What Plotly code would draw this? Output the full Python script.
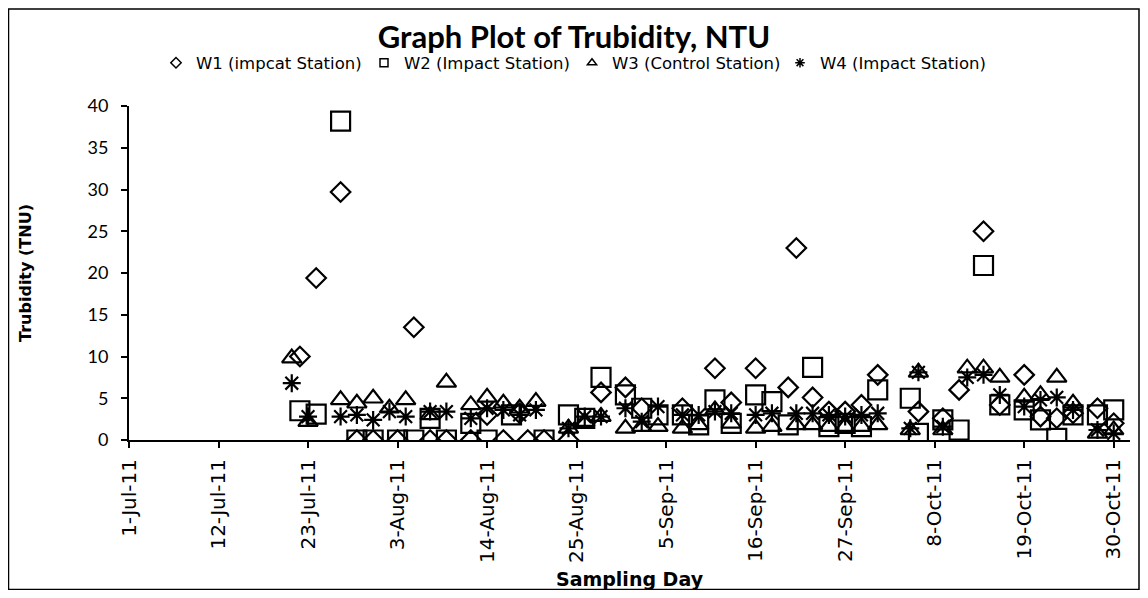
import plotly.graph_objects as go

# ---------------- data ----------------
w1_dates = ["2011-07-22", "2011-07-24", "2011-07-27", "2011-07-29", "2011-07-31", "2011-08-03",
            "2011-08-05", "2011-08-07", "2011-08-09", "2011-08-12", "2011-08-14", "2011-08-16",
            "2011-08-18", "2011-08-19", "2011-08-21", "2011-08-24", "2011-08-28", "2011-08-31",
            "2011-09-02", "2011-09-07", "2011-09-11", "2011-09-13", "2011-09-16", "2011-09-20",
            "2011-09-21", "2011-09-23", "2011-09-25", "2011-09-27", "2011-09-29", "2011-10-01",
            "2011-10-06", "2011-10-09", "2011-10-11", "2011-10-14", "2011-10-16", "2011-10-19",
            "2011-10-21", "2011-10-23", "2011-10-25", "2011-10-28", "2011-10-30"]
w1_values = [10.0, 19.4, 29.7, 0, 0, 0, 13.5, 0, 0, 0, 3.0, 0, 3.2, 0, 0, 0, 5.7, 6.3, 3.8, 3.8,
             8.6, 4.5, 8.6, 6.3, 23.0, 5.1, 3.4, 3.4, 4.2, 7.8, 3.4, 2.6, 6.0, 25.0, 4.2, 7.8,
             2.8, 2.6, 3.2, 3.8, 2.0]

w2_dates = ["2011-07-22", "2011-07-24", "2011-07-27", "2011-07-29", "2011-07-31", "2011-08-03",
            "2011-08-05", "2011-08-07", "2011-08-09", "2011-08-12", "2011-08-14", "2011-08-17",
            "2011-08-21", "2011-08-24", "2011-08-26", "2011-08-28", "2011-08-31", "2011-09-02",
            "2011-09-04", "2011-09-07", "2011-09-09", "2011-09-11", "2011-09-13", "2011-09-16",
            "2011-09-18", "2011-09-20", "2011-09-23", "2011-09-25", "2011-09-27", "2011-09-29",
            "2011-10-01", "2011-10-05", "2011-10-06", "2011-10-09", "2011-10-11", "2011-10-14",
            "2011-10-16", "2011-10-19", "2011-10-21", "2011-10-23", "2011-10-25", "2011-10-28",
            "2011-10-30"]
w2_values = [3.5, 3.1, 38.2, 0, 0, 0, 0, 2.6, 0, 2.0, 0, 3.0, 0, 3.0, 2.6, 7.5, 5.4, 3.8, 3.0,
             3.0, 1.8, 4.8, 2.0, 5.4, 4.6, 1.8, 8.7, 1.6, 2.0, 1.6, 6.0, 5.0, 0.8, 2.4, 1.2, 20.9,
             4.2, 3.6, 2.4, 0.2, 3.0, 3.0, 3.6]

w34_dates = ["2011-07-21", "2011-07-23", "2011-07-27", "2011-07-29", "2011-07-31", "2011-08-02",
             "2011-08-04", "2011-08-07", "2011-08-09", "2011-08-12", "2011-08-14", "2011-08-16",
             "2011-08-18", "2011-08-20", "2011-08-24", "2011-08-26", "2011-08-28", "2011-08-31",
             "2011-09-02", "2011-09-04", "2011-09-07", "2011-09-09", "2011-09-11", "2011-09-13",
             "2011-09-16", "2011-09-18", "2011-09-21", "2011-09-23", "2011-09-25", "2011-09-27",
             "2011-09-29", "2011-10-01", "2011-10-05", "2011-10-06", "2011-10-09", "2011-10-12",
             "2011-10-14", "2011-10-16", "2011-10-19", "2011-10-21", "2011-10-23", "2011-10-25",
             "2011-10-28", "2011-10-30"]
w3_values = [9.8, 2.2, 4.8, 4.4, 5.0, 3.8, 4.8, 3.0, 6.9, 4.2, 5.1, 4.4, 3.8, 4.6, 1.4, 2.2, 2.8,
             1.4, 1.6, 1.6, 1.4, 1.8, 3.6, 2.0, 1.4, 1.6, 1.8, 1.8, 1.6, 1.6, 1.6, 1.8, 1.2, 8.1,
             1.2, 8.6, 8.6, 7.5, 5.1, 5.4, 7.5, 4.4, 0.8, 1.2]
w4_values = [6.8, 2.8, 2.8, 3.0, 2.4, 3.4, 2.8, 3.4, 3.4, 2.6, 3.8, 3.6, 3.0, 3.6, 1.4, 2.8, 2.8,
             3.8, 2.2, 4.0, 3.0, 3.0, 3.4, 3.2, 3.0, 3.2, 3.2, 3.2, 3.0, 2.8, 3.0, 3.2, 1.4, 8.1,
             1.6, 7.5, 7.8, 5.4, 4.0, 4.8, 5.1, 3.6, 1.2, 0.8]

series_names = ["W1 (impcat Station)", "W2 (Impact Station)",
                "W3 (Control Station)", "W4 (Impact Station)"]

chart_title = "Graph Plot of Trubidity, NTU"
x_title = "Sampling Day"
y_title = "Trubidity (TNU)"

# ---------------- figure ----------------
TFONT = "Lato"
SFONT = "DejaVu Sans"
symbols = ["diamond-open", "square-open", "triangle-up-open", "asterisk-open"]
sizes = [15, 19, 17, 15]
data = [(w1_dates, w1_values), (w2_dates, w2_values),
        (w34_dates, w3_values), (w34_dates, w4_values)]

fig = go.Figure()
for (xs, ys), name, sym, sz in zip(data, series_names, symbols, sizes):
    fig.add_trace(go.Scatter(
        x=xs, y=ys, mode="markers", name=name, showlegend=False,
        marker=dict(symbol=sym, size=sz, color="black",
                    line=dict(color="black", width=2.2)),
    ))
# legend-only entries with small markers (as in the reference legend)
for name, sym in zip(series_names, symbols):
    fig.add_trace(go.Scatter(
        x=[None], y=[None], mode="markers", name=name, showlegend=True,
        marker=dict(symbol=sym, size=8, color="black",
                    line=dict(color="black", width=1.5)),
    ))

# the page body has an 8 px margin: figure sized to fit the 1148x598 window
OFF = 8
W, H = 1148 - 2 * OFF, 598 - 2 * OFF
L, T = 129 - OFF, 106 - OFF
R = W - (1130 - OFF)
B = H - (440 - OFF)
pw, ph = W - L - R, H - T - B

def px_to_paper_x(px):
    return (px - OFF - L) / pw

def py_to_paper_y(py):
    return (H - B - (py - OFF)) / ph

fig.update_layout(
    width=W, height=H,
    margin=dict(l=L, r=R, t=T, b=B, pad=0, autoexpand=False),
    paper_bgcolor="white", plot_bgcolor="white",
    font=dict(family=SFONT, color="black"),
    title=dict(text="<b>" + chart_title + "</b>", x=0.5, xanchor="center",
               y=1 - (37 - OFF) / H, yanchor="middle", font=dict(size=31, family=TFONT)),
    legend=dict(orientation="h", x=px_to_paper_x(156), xanchor="left",
                y=py_to_paper_y(63), yanchor="middle",
                entrywidth=163, entrywidthmode="pixels",
                font=dict(size=16.5, family=SFONT), itemwidth=30,
                bgcolor="rgba(0,0,0,0)", tracegroupgap=0),
    xaxis=dict(
        type="date", automargin=False,
        range=["2011-07-01", "2011-11-01"],
        tick0="2011-07-01", dtick=11 * 86400000,
        tickformat="%-d-%b-%y", tickangle=-90,
        ticks="outside", ticklen=6, tickwidth=1.5, tickcolor="black",
        ticklabelstandoff=3,
        showline=True, linecolor="black", linewidth=2,
        showgrid=False, zeroline=False,
        tickfont=dict(size=20, family=SFONT),
        title=dict(text="<b>" + x_title + "</b>", font=dict(size=19, family=SFONT),
                   standoff=14),
    ),
    yaxis=dict(
        automargin=False,
        range=[0, 40], dtick=5,
        ticks="outside", ticklen=6, tickwidth=1.5, tickcolor="black",
        ticklabelstandoff=9,
        showline=True, linecolor="black", linewidth=2,
        showgrid=False, zeroline=False,
        tickfont=dict(size=18, family=TFONT),
        title=dict(text="<b>" + y_title + "</b>", font=dict(size=16, family=SFONT),
                   standoff=52),
    ),
    shapes=[dict(type="rect", xref="paper", yref="paper",
                 x0=-L / pw + 0.5 / pw, x1=(W - L - 1) / pw,
                 y0=-B / ph + 0.5 / ph, y1=(H - B - 1) / ph,
                 line=dict(color="black", width=1.5), fillcolor="rgba(0,0,0,0)",
                 layer="below")],
)

fig.write_html("out.html")
